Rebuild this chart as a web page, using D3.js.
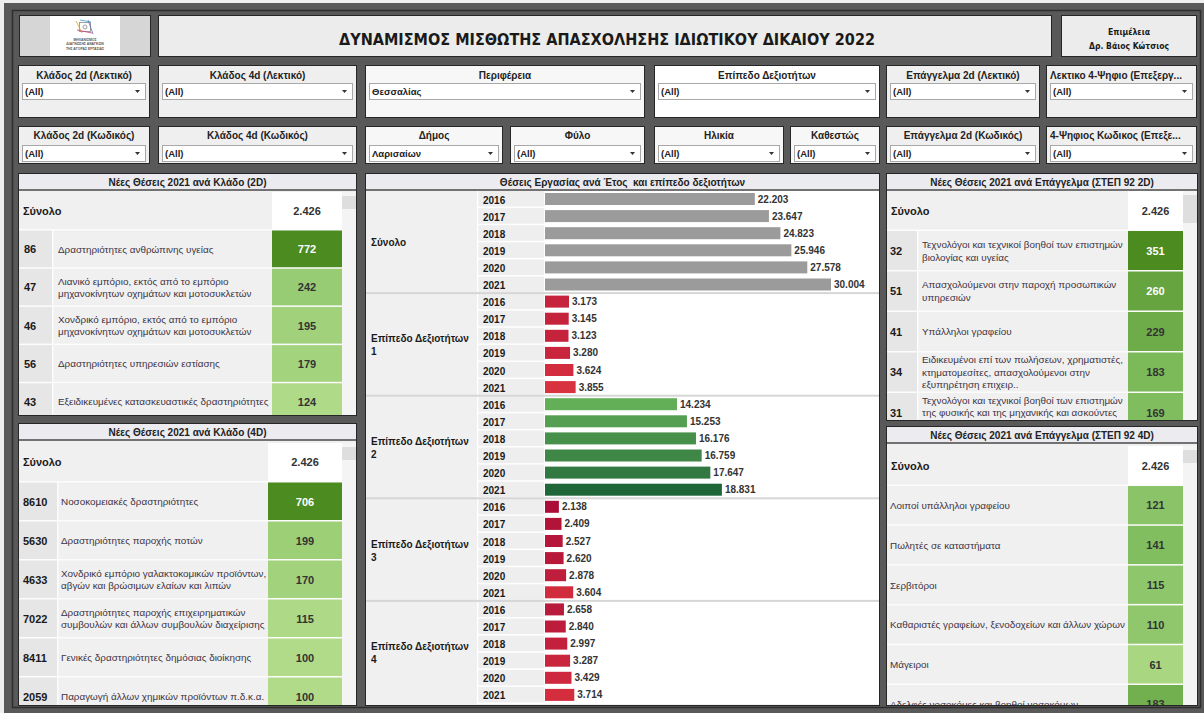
<!DOCTYPE html>
<html><head><meta charset="utf-8">
<script src="https://cdn.jsdelivr.net/npm/d3@7"></script>
<style>
html,body{margin:0;padding:0;background:#eeeeee;overflow:hidden}
svg{display:block}
</style></head><body>
<svg id="c" width="1204" height="713"></svg>
<script>
// ---------------- DATA ----------------
const dashboardTitle = "ΔΥΝΑΜΙΣΜΟΣ ΜΙΣΘΩΤΗΣ ΑΠΑΣΧΟΛΗΣΗΣ ΙΔΙΩΤΙΚΟΥ ΔΙΚΑΙΟΥ 2022";
const creditLines = ["Επιμέλεια", "Δρ. Βάιος Κώτσιος"];
const logoLines = ["ΜΗΧΑΝΙΣΜΟΣ", "ΔΙΑΓΝΩΣΗΣ ΑΝΑΓΚΩΝ", "ΤΗΣ ΑΓΟΡΑΣ ΕΡΓΑΣΙΑΣ"];

const filterRow1Labels = ["Κλάδος 2d (Λεκτικό)", "Κλάδος 4d (Λεκτικό)", "Περιφέρεια", "Επίπεδο Δεξιοτήτων", "Επάγγελμα 2d (Λεκτικό)", "Λεκτικο 4-Ψηφιο (Επεξεργ..."];
const filterRow1Values = ["(All)", "(All)", "Θεσσαλίας", "(All)", "(All)", "(All)"];
const filterRow2Labels = ["Κλάδος 2d (Κωδικός)", "Κλάδος 4d (Κωδικός)", "Δήμος", "Φύλο", "Ηλικία", "Καθεστώς", "Επάγγελμα 2d (Κωδικός)", "4-Ψηφιος Κωδικος (Επεξε..."];
const filterRow2Values = ["(All)", "(All)", "Λαρισαίων", "(All)", "(All)", "(All)", "(All)", "(All)"];

const years = ["2016", "2017", "2018", "2019", "2020", "2021"];
const skillGroups = ["Σύνολο", "Επίπεδο Δεξιοτήτων 1", "Επίπεδο Δεξιοτήτων 2", "Επίπεδο Δεξιοτήτων 3", "Επίπεδο Δεξιοτήτων 4"];
const jobsTotal  = [22203, 23647, 24823, 25946, 27578, 30004];
const jobsLevel1 = [3173, 3145, 3123, 3280, 3624, 3855];
const jobsLevel2 = [14234, 15253, 16176, 16759, 17647, 18831];
const jobsLevel3 = [2138, 2409, 2527, 2620, 2878, 3604];
const jobsLevel4 = [2658, 2840, 2997, 3287, 3429, 3714];

const totalNewJobs = 2426;

const sector2dCodes = ["86", "47", "46", "56", "43"];
const sector2dNames = [
  "Δραστηριότητες ανθρώπινης υγείας",
  "Λιανικό εμπόριο, εκτός από το εμπόριο\nμηχανοκίνητων οχημάτων και μοτοσυκλετών",
  "Χονδρικό εμπόριο, εκτός από το εμπόριο\nμηχανοκίνητων οχημάτων και μοτοσυκλετών",
  "Δραστηριότητες υπηρεσιών εστίασης",
  "Εξειδικευμένες κατασκευαστικές δραστηριότητες"
];
const sector2dValues = [772, 242, 195, 179, 124];

const sector4dCodes = ["8610", "5630", "4633", "7022", "8411", "2059"];
const sector4dNames = [
  "Νοσοκομειακές δραστηριότητες",
  "Δραστηριότητες παροχής ποτών",
  "Χονδρικό εμπόριο γαλακτοκομικών προϊόντων,\nαβγών και βρώσιμων ελαίων και λιπών",
  "Δραστηριότητες παροχής επιχειρηματικών\nσυμβουλών και άλλων συμβουλών διαχείρισης",
  "Γενικές δραστηριότητες δημόσιας διοίκησης",
  "Παραγωγή άλλων χημικών προϊόντων π.δ.κ.α."
];
const sector4dValues = [706, 199, 170, 115, 100, 100];

const occ2dCodes = ["32", "51", "41", "34", "31"];
const occ2dNames = [
  "Τεχνολόγοι και τεχνικοί βοηθοί των επιστημών\nβιολογίας και υγείας",
  "Απασχολούμενοι στην παροχή προσωπικών\nυπηρεσιών",
  "Υπάλληλοι γραφείου",
  "Ειδικευμένοι επί των πωλήσεων, χρηματιστές,\nκτηματομεσίτες, απασχολούμενοι στην\nεξυπηρέτηση επιχειρ..",
  "Τεχνολόγοι και τεχνικοί βοηθοί των επιστημών\nτης φυσικής και της μηχανικής και ασκούντες\nσυναφή επαγγέλματα"
];
const occ2dValues = [351, 260, 229, 183, 169];

const occ4dNames = [
  "Λοιποί υπάλληλοι γραφείου",
  "Πωλητές σε καταστήματα",
  "Σερβιτόροι",
  "Καθαριστές γραφείων, ξενοδοχείων και άλλων χώρων",
  "Μάγειροι",
  "Αδελφές νοσοκόμες και βοηθοί νοσοκόμων"
];
const occ4dValues = [121, 141, 115, 110, 61, 183];

// ---------------- DRAWING ----------------
const W = 1204, H = 713;
const svg = d3.select("#c");
const F = "'Liberation Sans', Arial, sans-serif";
const FC = "'DejaVu Sans Condensed', 'DejaVu Sans', sans-serif";
const loc = d3.formatLocale({decimal: ",", thousands: ".", grouping: [3], currency: ["", "€"]});
const fmt = loc.format(",d");
let clipN = 0;

function txt(g, x, y, s, size, weight, fill, anchor, family) {
  return g.append("text").attr("x", x).attr("y", y)
    .attr("font-size", size).attr("font-weight", weight || "normal")
    .attr("fill", fill || "#222").attr("text-anchor", anchor || "start")
    .attr("font-family", family || F).style("white-space", "pre").text(s);
}
function box(x0, y0, x1, y1, fill, stroke) {
  return svg.append("rect").attr("x", x0 + .5).attr("y", y0 + .5)
    .attr("width", x1 - x0 - 1).attr("height", y1 - y0 - 1)
    .attr("fill", fill).attr("stroke", stroke || "#262626");
}

// page background
svg.append("rect").attr("width", W).attr("height", H).attr("fill", "#eeeeee");
svg.append("rect").attr("x", 4).attr("y", 3).attr("width", W - 4).attr("height", H - 3).attr("fill", "#595959");
svg.append("rect").attr("x", 12.5).attr("y", 10.5).attr("width", 1188).attr("height", 697)
  .attr("fill", "none").attr("stroke", "#2e2e2e").attr("stroke-width", 1.5);

// ---- header ----
box(19, 15, 151, 57, "#d6d6d6");
svg.append("rect").attr("x", 50).attr("y", 16).attr("width", 70).attr("height", 40).attr("fill", "#ffffff");
const logo = svg.append("g");
logo.append("rect").attr("x", 79.5).attr("y", 22.5).attr("width", 11).attr("height", 9).attr("fill", "none").attr("stroke", "#8a8a8a").attr("stroke-width", 0.8);
logo.append("circle").attr("cx", 85).attr("cy", 27).attr("r", 2).attr("fill", "none").attr("stroke", "#777").attr("stroke-width", 0.7);
[["#e0a030", 76, 21, 82, 33], ["#6060c0", 88, 20, 93, 34], ["#d04070", 77, 30, 92, 33], ["#40a0d0", 80, 20, 91, 22]].forEach(l =>
  logo.append("line").attr("x1", l[1]).attr("y1", l[2]).attr("x2", l[3]).attr("y2", l[4]).attr("stroke", l[0]).attr("stroke-width", 0.8));
logoLines.forEach((s, i) => txt(logo, 85, 41 + i * 4.3, s, 3.4, "bold", "#555", "middle"));

box(158, 15, 1052, 57, "#ececec");
txt(svg, 607, 44.5, dashboardTitle, 16, "bold", "#1a1a1a", "middle", FC)
  .attr("textLength", 536).attr("lengthAdjust", "spacingAndGlyphs");

box(1061, 15, 1197, 57, "#ececec");
txt(svg, 1129, 34.5, creditLines[0], 9.5, "bold", "#1a1a1a", "middle", FC).attr("textLength", 42).attr("lengthAdjust", "spacingAndGlyphs");
txt(svg, 1129, 48.5, creditLines[1], 9.5, "bold", "#1a1a1a", "middle", FC).attr("textLength", 80).attr("lengthAdjust", "spacingAndGlyphs");

// ---- filters ----
function dropdown(x0, y0, x1, y1, val) {
  svg.append("rect").attr("x", x0 + .5).attr("y", y0 + .5).attr("width", x1 - x0 - 1).attr("height", y1 - y0 - 1)
    .attr("fill", "#ffffff").attr("stroke", "#a8a8a8");
  txt(svg, x0 + 3, y0 + 11.5, val, 9.5, "bold", "#222");
  svg.append("path").attr("d", `M${x1 - 11},${y0 + 7}h5l-2.5,3z`).attr("fill", "#333");
}
function filterBox(a, b, y0, y1, label, val, fill, labelY, ddY0, ddY1) {
  box(a, y0, b, y1, fill);
  const trunc = label.endsWith("...");
  txt(svg, trunc ? a + 4 : (a + b) / 2, labelY, label, 10, "bold", "#222", trunc ? "start" : "middle");
  dropdown(a + 4, ddY0, b - 4, ddY1, val);
}
const row1X = [[18, 150], [158, 357], [365, 645], [654, 880], [886, 1040], [1046, 1197]];
const row1Fill = ["#efefef", "#efefef", "#f7f7f7", "#ffffff", "#efefef", "#efefef"];
filterRow1Labels.forEach((lab, i) => filterBox(row1X[i][0], row1X[i][1], 65, 118, lab, filterRow1Values[i], row1Fill[i], 78.5, 83, 100));
const row2X = [[18, 150], [158, 357], [365, 503], [510, 645], [654, 784], [790, 880], [886, 1040], [1046, 1197]];
const row2Fill = ["#efefef", "#efefef", "#f7f7f7", "#f7f7f7", "#f7f7f7", "#f7f7f7", "#efefef", "#efefef"];
filterRow2Labels.forEach((lab, i) => filterBox(row2X[i][0], row2X[i][1], 126, 164, lab, filterRow2Values[i], row2Fill[i], 139, 145, 162));

// ---- panels ----
function panel(x0, y0, x1, y1, title) {
  box(x0, y0, x1, y1, "#f0f0f0");
  svg.append("rect").attr("x", x0 + 1).attr("y", y0 + 1).attr("width", x1 - x0 - 2).attr("height", 15).attr("fill", "#ebebf0");
  svg.append("rect").attr("x", x0 + 1).attr("y", y0 + 16).attr("width", x1 - x0 - 2).attr("height", 2).attr("fill", "#727272");
  txt(svg, (x0 + x1) / 2, y0 + 12.5, title, 10, "bold", "#222", "middle");
}

function multiline(g, x, cy, str, size, fill, lh) {
  const lines = str.split("\n");
  const t = g.append("text").attr("font-family", F).attr("font-size", size).attr("fill", fill);
  lines.forEach((l, i) => t.append("tspan").attr("x", x).attr("y", cy - (lines.length - 1) * lh / 2 + i * lh + 3.5).text(l));
  return t;
}

function table(o) {
  const cid = "clip" + (++clipN);
  svg.append("clipPath").attr("id", cid).append("rect")
    .attr("x", o.x0 + 1).attr("y", o.top).attr("width", o.x1 - o.x0 - 2).attr("height", o.bottom - o.top);
  const g = svg.append("g").attr("clip-path", `url(#${cid})`);
  g.append("rect").attr("x", o.x0 + 1).attr("y", o.top).attr("width", o.valX1 - o.x0 - 1).attr("height", o.bottom - o.top).attr("fill", "#fcfcfc");
  // scrollbar
  g.append("rect").attr("x", o.valX1).attr("y", o.top).attr("width", o.x1 - 1 - o.valX1).attr("height", o.bottom - o.top).attr("fill", "#f4f4f4");
  g.append("rect").attr("x", o.valX1).attr("y", o.top + 4).attr("width", o.x1 - 1 - o.valX1).attr("height", o.thumbH).attr("fill", "#dedede");
  // total row
  g.append("rect").attr("x", o.x0 + 1).attr("y", o.top).attr("width", o.valX0 - o.x0 - 1).attr("height", o.sumH - 1.5).attr("fill", "#f0f0f0");
  g.append("rect").attr("x", o.valX0).attr("y", o.top).attr("width", o.valX1 - o.valX0).attr("height", o.sumH - 1.5).attr("fill", "#ffffff");
  txt(g, o.x0 + 5, o.top + o.sumH / 2 + 3.5, "Σύνολο", 11, "bold", "#1a1a1a");
  txt(g, (o.valX0 + o.valX1) / 2, o.top + o.sumH / 2 + 3.5, fmt(o.total), 11, "bold", "#333", "middle");

  const y = d3.scaleBand().domain(d3.range(o.values.length))
    .range([o.top + o.sumH, o.top + o.sumH + o.rowH * o.values.length]);
  const color = d3.scaleLinear().domain([0, o.colorMax / 2, o.colorMax])
    .range(["#c6e89b", "#7dbb5c", "#4b8b1f"]).clamp(true);
  const hasCode = !!o.codes;
  const descX0 = hasCode ? o.codeX1 + 1.5 : o.x0 + 1;
  const rows = g.selectAll("g.row").data(o.values).join("g").attr("class", "row");
  if (hasCode) {
    rows.append("rect").attr("x", o.x0 + 1).attr("y", (d, i) => y(i)).attr("width", o.codeX1 - o.x0 - 1)
      .attr("height", y.bandwidth() - 1.5).attr("fill", "#e6e6e6");
    rows.append("text").attr("x", o.x0 + o.codeDx).attr("y", (d, i) => y(i) + y.bandwidth() / 2 + 3.5)
      .attr("font-family", F).attr("font-size", 11).attr("font-weight", "bold").attr("fill", "#1a1a1a")
      .text((d, i) => o.codes[i]);
  }
  rows.append("rect").attr("x", descX0).attr("y", (d, i) => y(i)).attr("width", o.valX0 - descX0)
    .attr("height", y.bandwidth() - 1.5).attr("fill", "#f0f0f0");
  rows.each(function (d, i) {
    multiline(d3.select(this), o.descX, y(i) + y.bandwidth() / 2 - 0.5, o.names[i], 9.9, "#3d3344", 12.6);
  });
  rows.append("rect").attr("x", o.valX0).attr("y", (d, i) => y(i)).attr("width", o.valX1 - o.valX0)
    .attr("height", y.bandwidth() - 1.5).attr("fill", d => color(d));
  rows.append("text").attr("x", (o.valX0 + o.valX1) / 2).attr("y", (d, i) => y(i) + y.bandwidth() / 2 + 3.5)
    .attr("text-anchor", "middle").attr("font-family", F).attr("font-size", 11).attr("font-weight", "bold")
    .attr("fill", d => d / o.colorMax > 0.7 ? "#ffffff" : "#333333").text(d => fmt(d));
}

// left top
panel(18, 173, 357, 416, "Νέες Θέσεις 2021 ανά Κλάδο (2D)");
table({x0: 18, x1: 357, top: 192, bottom: 415, codes: sector2dCodes, names: sector2dNames, values: sector2dValues,
  total: totalNewJobs, codeX1: 52, codeDx: 6, descX: 58, valX0: 272, valX1: 342, sumH: 38.5, rowH: 38.2,
  colorMax: d3.max(sector2dValues), thumbH: 13});

// left bottom
panel(18, 423, 357, 706, "Νέες Θέσεις 2021 ανά Κλάδο (4D)");
table({x0: 18, x1: 357, top: 443, bottom: 705, codes: sector4dCodes, names: sector4dNames, values: sector4dValues,
  total: totalNewJobs, codeX1: 57, codeDx: 5, descX: 61, valX0: 268, valX1: 342, sumH: 39.5, rowH: 39,
  colorMax: d3.max(sector4dValues), thumbH: 13});

// right top
panel(886, 173, 1198, 421, "Νέες Θέσεις 2021 ανά Επάγγελμα (ΣΤΕΠ 92 2D)");
table({x0: 886, x1: 1198, top: 191, bottom: 420, codes: occ2dCodes, names: occ2dNames, values: occ2dValues,
  total: totalNewJobs, codeX1: 917, codeDx: 4, descX: 922, valX0: 1128, valX1: 1183, sumH: 40, rowH: 40.5,
  colorMax: d3.max(occ2dValues), thumbH: 28});

// right bottom
panel(886, 426, 1198, 706, "Νέες Θέσεις 2021 ανά Επάγγελμα (ΣΤΕΠ 92 4D)");
table({x0: 886, x1: 1198, top: 446, bottom: 705, codes: null, names: occ4dNames, values: occ4dValues,
  total: totalNewJobs, descX: 890, valX0: 1128, valX1: 1183, sumH: 40, rowH: 39.8,
  colorMax: 300, thumbH: 13});

// ---- middle bar chart ----
panel(365, 173, 880, 706, "Θέσεις Εργασίας ανά Έτος  και επίπεδο δεξιοτήτων");
const series = [jobsTotal, jobsLevel1, jobsLevel2, jobsLevel3, jobsLevel4];
const barRows = [];
skillGroups.forEach((gname, gi) => years.forEach((yr, yi) => barRows.push({gi, gname, yr, v: series[gi][yi]})));
const mTop = 191, mBottom = 704, groupX0 = 366, yearX0 = 478, barX0 = 545, mX1 = 879;
const yb = d3.scaleBand().domain(d3.range(barRows.length)).range([mTop, mBottom]);
const xb = d3.scaleLinear().domain([0, d3.max(jobsTotal)]).range([538, 831]);
const lowVals = jobsLevel1.concat(jobsLevel3, jobsLevel4);
const levelColor = d3.scaleLinear()
  .domain([d3.min(lowVals), d3.max(lowVals), d3.min(jobsLevel2), d3.max(jobsLevel2)])
  .range(["#ab0e38", "#d8313f", "#63af58", "#1f6639"]).clamp(true);
const totalColor = "#9b9b9b";

const mg = svg.append("g");
mg.append("rect").attr("x", groupX0).attr("y", mTop).attr("width", mX1 - groupX0).attr("height", mBottom - mTop).attr("fill", "#ffffff");
mg.append("rect").attr("x", groupX0).attr("y", mTop).attr("width", yearX0 - groupX0 - 1).attr("height", mBottom - mTop).attr("fill", "#f0f0f0");
mg.selectAll("rect.yc").data(barRows).join("rect").attr("class", "yc")
  .attr("x", yearX0 + 0.5).attr("y", (d, i) => yb(i)).attr("width", barX0 - yearX0 - 1.5)
  .attr("height", yb.bandwidth() - 1.5).attr("fill", "#eeeeee");
// group separators and labels
skillGroups.forEach((gname, gi) => {
  if (gi > 0) mg.append("rect").attr("x", groupX0).attr("y", yb(gi * years.length) - 1.5)
    .attr("width", mX1 - groupX0).attr("height", 2).attr("fill", "#d6d6d6");
  const cy = (yb(gi * years.length) + yb(gi * years.length + years.length - 1) + yb.bandwidth()) / 2;
  const idx = gname.lastIndexOf(" ");
  if (gi === 0) {
    txt(mg, 371, cy + 4, gname, 10, "bold", "#1a1a1a");
  } else {
    txt(mg, 371, cy - 2.5, gname.slice(0, idx), 10, "bold", "#1a1a1a");
    txt(mg, 371, cy + 10.5, gname.slice(idx + 1), 10, "bold", "#1a1a1a");
  }
});
mg.selectAll("text.yr").data(barRows).join("text").attr("class", "yr")
  .attr("x", 483).attr("y", (d, i) => yb(i) + 12.5)
  .attr("font-family", F).attr("font-size", 10).attr("font-weight", "bold").attr("fill", "#1a1a1a")
  .text(d => d.yr);
mg.selectAll("rect.bar").data(barRows).join("rect").attr("class", "bar")
  .attr("x", barX0).attr("y", (d, i) => yb(i) + 2)
  .attr("width", d => Math.max(0, xb(d.v) - barX0)).attr("height", 12)
  .attr("fill", d => d.gi === 0 ? totalColor : levelColor(d.v));
mg.selectAll("text.bl").data(barRows).join("text").attr("class", "bl")
  .attr("x", d => xb(d.v) + 3).attr("y", (d, i) => yb(i) + 11.5)
  .attr("font-family", F).attr("font-size", 10).attr("font-weight", "bold").attr("fill", "#333")
  .text(d => fmt(d.v));
</script>
</body></html>
